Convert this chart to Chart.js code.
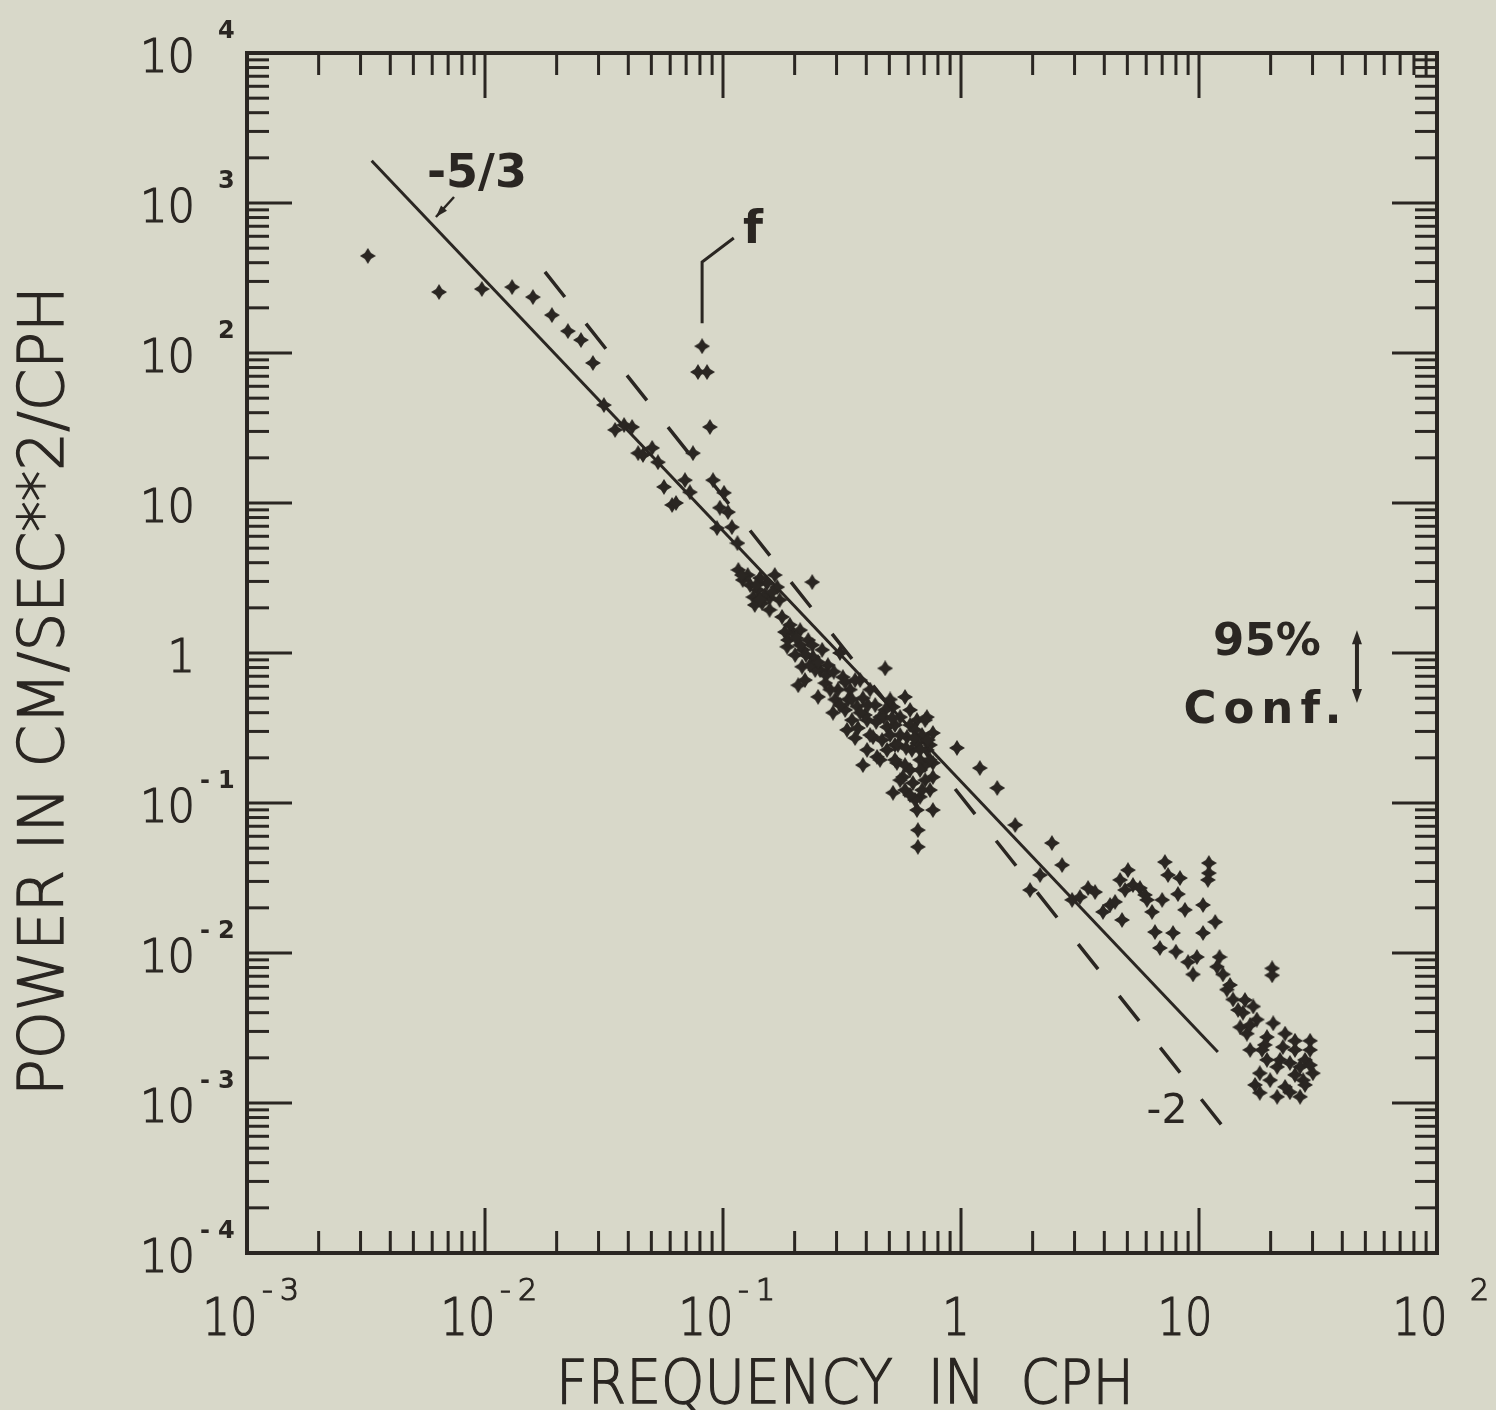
<!DOCTYPE html>
<html>
<head>
<meta charset="utf-8">
<script src="https://cdn.jsdelivr.net/npm/chart.js@4.4.1/dist/chart.umd.min.js"></script>
<style>
  html, body { margin: 0; padding: 0; background: #d8d8c9; }
  canvas { display: block; }
</style>
</head>
<body>
<canvas id="spectrum" width="1496" height="1410"></canvas>
<script>
// 観測スペクトル（周波数 cph / パワー (cm/s)^2/cph）
const freq = [
  0.00322, 0.00641, 0.0097, 0.0130, 0.0159, 0.0191, 0.0223, 0.0253, 0.0284, 0.0316,
  0.0352, 0.0384, 0.0415, 0.044, 0.0461, 0.0504, 0.0533, 0.0565, 0.0611, 0.0635,
  0.0692, 0.0726, 0.0817, 0.0785, 0.0857, 0.0881, 0.0748, 0.0908, 0.101, 0.097,
  0.105, 0.0944, 0.109, 0.115, 0.116, 0.121, 0.134, 0.146, 0.165, 0.169,
  0.153, 0.237, 0.177, 0.197, 0.211, 0.186, 0.217, 0.239, 0.207, 0.215,
  0.256, 0.310, 0.269, 0.251, 0.296, 0.290, 0.319, 0.342, 0.366, 0.377,
  0.415, 0.387, 0.480, 0.332, 0.359, 0.403, 0.427, 0.403, 0.387, 0.444,
  0.457, 0.489, 0.518, 0.555, 0.582, 0.611, 0.653, 0.719, 0.762, 0.489,
  0.538, 0.593, 0.653, 0.719, 0.762, 0.518, 0.570, 0.628, 0.673, 0.762,
  0.741, 0.762, 0.653, 0.659, 0.659, 0.962, 1.20, 1.42, 0.130, 0.140,
  0.157, 0.191, 0.228, 0.244, 0.276, 0.304, 0.326, 0.348, 0.369, 0.436,
  0.466, 0.504, 0.528, 0.611, 0.686, 0.622, 0.707, 0.582, 0.641, 0.707,
  1.69, 2.41, 2.66, 1.95, 2.15, 2.93, 3.16, 3.42, 3.66, 3.95,
  4.23, 4.44, 4.75, 5.03, 4.89, 5.28, 5.65, 5.93, 6.05, 6.35,
  7.19, 7.41, 8.32, 7.0, 8.16, 8.73, 6.53, 7.78, 6.85, 8.0,
  10.4, 11.0, 11.0, 10.9, 11.7, 10.4, 9.0, 9.8, 9.44, 12.2,
  12.6, 11.9, 20.3, 20.3, 13.1, 13.9, 15.3, 16.9, 14.9, 15.9,
  17.5, 19.3, 20.5, 23.0, 29.3, 29.3, 22.5, 19.3, 18.0, 21.3,
  24.1, 26.6, 30.1, 18.0, 21.3, 26.6, 27.4, 16.4, 24.1, 17.2,
  25.3, 27.9, 14.6, 13.5, 4.66, 0.127, 0.143, 0.157, 0.232, 0.261,
  0.201, 0.335, 0.395, 0.480, 0.528, 0.582, 0.673, 0.741, 0.611, 0.136,
  0.150, 0.173, 0.182, 0.211, 0.237, 0.221, 0.282, 0.310, 0.359, 0.415,
  0.457, 0.504, 0.555, 0.641, 0.707, 0.555, 0.673, 0.741, 0.528, 16.4,
  18.9, 25.3, 23.0, 29.3, 15.6, 0.1875, 0.203, 0.223, 0.251, 0.271,
  0.292, 0.326, 0.348, 0.377, 0.406, 0.44, 0.474, 0.513, 0.543, 0.588,
  0.635, 0.673, 0.726, 0.611, 0.686, 0.143, 0.161, 0.120, 0.138, 18.4,
  21.9, 25.3, 19.9, 27.9
];
const power = [
  444, 255, 267, 275, 236, 179, 140, 122, 85.8, 45,
  30.7, 33.1, 32.1, 21.5, 20.9, 23.3, 18.7, 12.8, 9.7, 10,
  14.2, 11.8, 111, 74.7, 74.7, 32.1, 21.5, 14.2, 11.7, 9.3,
  8.7, 6.8, 6.9, 5.4, 3.58, 3.07, 2.36, 2.15, 3.31, 2.75,
  2.93, 2.97, 1.74, 1.36, 1.42, 1.10, 1.05, 0.94, 0.61, 0.81,
  0.77, 1.0, 0.63, 0.51, 0.49, 0.40, 0.69, 0.57, 0.44, 0.66,
  0.57, 0.50, 0.79, 0.307, 0.271, 0.357, 0.275, 0.226, 0.179, 0.203,
  0.374, 0.321, 0.437, 0.374, 0.509, 0.417, 0.357, 0.374, 0.293, 0.226,
  0.185, 0.275, 0.251, 0.226, 0.185, 0.117, 0.149, 0.136, 0.110, 0.149,
  0.122, 0.0898, 0.0898, 0.066, 0.051, 0.233, 0.171, 0.126, 2.84, 2.63,
  2.33, 1.54, 1.22, 0.77, 0.83, 0.57, 0.417, 0.357, 0.316, 0.45,
  0.263, 0.284, 0.331, 0.331, 0.284, 0.226, 0.179, 0.122, 0.105, 0.142,
  0.0714, 0.0541, 0.0386, 0.0263, 0.0331, 0.0226, 0.0236, 0.0271, 0.0255, 0.0188,
  0.0209, 0.0219, 0.0166, 0.0357, 0.0263, 0.0284, 0.0271, 0.0244, 0.0226, 0.0188,
  0.0404, 0.0331, 0.0316, 0.0226, 0.0247, 0.0194, 0.0138, 0.0136, 0.0108, 0.0102,
  0.0209, 0.0398, 0.0341, 0.0307, 0.0161, 0.0136, 0.0087, 0.0094, 0.0072, 0.0094,
  0.0072, 0.0081, 0.0079, 0.0071, 0.0057, 0.0049, 0.0040, 0.0044, 0.0032, 0.0029,
  0.0036, 0.00275, 0.0034, 0.0029, 0.0026, 0.00226, 0.00236, 0.00194, 0.00158, 0.00174,
  0.00185, 0.00174, 0.00158, 0.00117, 0.0011, 0.0011, 0.00142, 0.00226, 0.00118, 0.00132,
  0.00226, 0.00194, 0.00417, 0.00612, 0.0307, 3.31, 3.16, 1.94, 0.83, 1.05,
  0.97, 0.49, 0.386, 0.417, 0.244, 0.179, 0.194, 0.244, 0.166, 2.09,
  2.44, 2.26, 1.38, 1.13, 1.13, 0.66, 0.57, 0.45, 0.66, 0.284,
  0.194, 0.49, 0.284, 0.307, 0.357, 0.142, 0.166, 0.194, 0.194, 0.00331,
  0.00244, 0.00154, 0.00128, 0.00179, 0.00486, 1.22, 1.26, 0.97, 0.87, 0.71,
  0.75, 0.64, 0.49, 0.40, 0.45, 0.347, 0.374, 0.369, 0.244, 0.233,
  0.271, 0.226, 0.263, 0.113, 0.122, 2.26, 2.55, 3.31, 2.84, 0.00226,
  0.00194, 0.0026, 0.00142, 0.00132
];

// 参照線 (-5/3 乗と -2 乗)
const slopeFreq = [0.00334, 12.0];
const slopePower = [1914, 0.00219];
const dashFreq = [0.01786, 12.85];
const dashPower = [347, 0.00067];

// 目盛り（10 のべき乗と 2〜9 の副目盛り）
const xDecades = [-3, -2, -1, 0, 1, 2];
const yDecades = [-4, -3, -2, -1, 0, 1, 2, 3, 4];
const minorSteps = [2, 3, 4, 5, 6, 7, 8, 9];

// 目盛りラベル
const xLabelBase = ['10', '10', '10', '1', '10', '10'];
const xLabelExp = ['-3', '-2', '-1', '', '', '2'];
const yLabelBase = ['10', '10', '10', '10', '1', '10', '10', '10', '10'];
const yLabelExp = ['-4', '-3', '-2', '-1', '', '', '2', '3', '4'];

const paper = '#d8d8c9';
const ink = '#2a2622';
const plain = '"DejaVu Sans", "Liberation Sans", sans-serif';
const thin = '200 ';

function logTicks(decades) {
  const ticks = [];
  decades.forEach((d, i) => {
    ticks.push({ value: Math.pow(10, d), major: true });
    if (i < decades.length - 1) {
      minorSteps.forEach(m => ticks.push({ value: m * Math.pow(10, d), major: false }));
    }
  });
  return ticks;
}

// 点の記号（四つ角の星）
function starMark(size) {
  const c = document.createElement('canvas');
  c.width = c.height = size;
  const g = c.getContext('2d');
  const m = size / 2;
  g.fillStyle = ink;
  g.beginPath();
  for (let i = 0; i < 8; i++) {
    const a = i * Math.PI / 4 - Math.PI / 2;
    const r = i % 2 ? size * 0.27 : size / 2;
    g.lineTo(m + r * Math.cos(a), m + r * Math.sin(a));
  }
  g.closePath();
  g.fill();
  return c;
}

// 細字はペンの太さに合わせて少し縁取る
function text(ctx, s, x, y, font, align, sx = 1) {
  ctx.save();
  ctx.font = font;
  ctx.textAlign = align;
  ctx.textBaseline = 'alphabetic';
  ctx.translate(x, y);
  ctx.scale(sx, 1);
  ctx.fillText(s, 0, 0);
  if (font.startsWith(thin)) {
    ctx.lineWidth = 1.2;
    ctx.strokeText(s, 0, 0);
  }
  ctx.restore();
}

function fitText(ctx, s, x, y, width, font, angle) {
  ctx.save();
  ctx.font = font;
  ctx.textAlign = 'center';
  ctx.textBaseline = 'alphabetic';
  ctx.translate(x, y);
  ctx.rotate(angle);
  ctx.scale(width / ctx.measureText(s).width, 1);
  ctx.fillText(s, 0, 0);
  ctx.lineWidth = 1.3;
  ctx.strokeText(s, 0, 0);
  ctx.restore();
}

function line(ctx, pts) {
  ctx.beginPath();
  pts.forEach(([x, y], i) => (i ? ctx.lineTo(x, y) : ctx.moveTo(x, y)));
  ctx.stroke();
}

function arrowHead(ctx, x0, y0, x1, y1, len, half) {
  const a = Math.atan2(y1 - y0, x1 - x0);
  ctx.beginPath();
  ctx.moveTo(x1, y1);
  ctx.lineTo(x1 - len * Math.cos(a) + half * Math.sin(a), y1 - len * Math.sin(a) - half * Math.cos(a));
  ctx.lineTo(x1 - len * Math.cos(a) - half * Math.sin(a), y1 - len * Math.sin(a) + half * Math.cos(a));
  ctx.closePath();
  ctx.fill();
}

function drawExp(ctx, exp, signX, digitX, base, font) {
  if (!exp) return;
  if (exp[0] === '-') {
    text(ctx, '-', signX, base, font, 'left');
    text(ctx, exp.slice(1), digitX, base, font, 'left');
  } else {
    text(ctx, exp, digitX, base, font, 'left');
  }
}

const plotter = {
  id: 'plotter',
  beforeDraw(chart) {
    const ctx = chart.ctx;
    ctx.save();
    ctx.fillStyle = paper;
    ctx.fillRect(0, 0, chart.width, chart.height);
    ctx.restore();
  },
  afterDraw(chart) {
    const ctx = chart.ctx;
    const a = chart.chartArea;
    const sx = chart.scales.x;
    const sy = chart.scales.y;
    const px = v => sx.getPixelForValue(v);
    const py = v => sy.getPixelForValue(v);

    ctx.save();
    ctx.strokeStyle = ink;
    ctx.fillStyle = ink;
    ctx.lineCap = 'butt';

    // 枠
    ctx.lineWidth = 4;
    ctx.strokeRect(a.left, a.top, a.right - a.left, a.bottom - a.top);

    // 内向きの目盛り（四辺）
    ctx.lineWidth = 3;
    sx.ticks.forEach(t => {
      const p = px(t.value);
      const len = t.major ? 45 : 22;
      line(ctx, [[p, a.bottom], [p, a.bottom - len]]);
      line(ctx, [[p, a.top], [p, a.top + len]]);
    });
    sy.ticks.forEach(t => {
      const p = py(t.value);
      const len = t.major ? 45 : 22;
      line(ctx, [[a.left, p], [a.left + len, p]]);
      line(ctx, [[a.right, p], [a.right - len, p]]);
    });

    // 横軸ラベル
    xDecades.forEach((d, i) => {
      const p = px(Math.pow(10, d));
      const exp = xLabelExp[i];
      const base = xLabelBase[i];
      const cx = p + (exp ? -17 : base === '1' ? -5 : -14);
      text(ctx, base, cx, a.bottom + 82, thin + '52px ' + plain, 'center', 0.83);
      drawExp(ctx, exp, p + 15, p + 33, a.bottom + 47, thin + '30px ' + plain);
    });

    // 縦軸ラベル
    yDecades.forEach((d, i) => {
      const p = py(Math.pow(10, d));
      text(ctx, yLabelBase[i], 195, p + 19, thin + '46px ' + plain, 'right', 0.94);
      drawExp(ctx, yLabelExp[i], 200, 218, p - 15, 'bold 24px ' + plain);
    });

    // 軸タイトル
    fitText(ctx, 'FREQUENCY  IN  CPH', 845, 1403, 578, thin + '60px ' + plain, 0);
    fitText(ctx, 'POWER IN CM/SEC**2/CPH', 63, 691, 810, thin + '62px ' + plain, -Math.PI / 2);

    // -5/3 の注記と矢印
    text(ctx, '-5/3', px(0.00925), py(1660) + 17, 'bold 46px ' + plain, 'center');
    ctx.lineWidth = 2.5;
    const a0 = [px(0.00741), py(1096)];
    const a1 = [px(0.00622), py(807)];
    line(ctx, [a0, a1]);
    arrowHead(ctx, a0[0], a0[1], a1[0], a1[1], 12, 4);

    // 慣性周期 f の引き出し線
    ctx.lineWidth = 3;
    line(ctx, [[px(0.0817), py(158)], [px(0.0817), py(404)], [px(0.111), py(584)]]);
    text(ctx, 'f', px(0.1337), py(703) + 17, 'bold 46px ' + plain, 'center');

    // -2 の注記
    text(ctx, '-2', px(7.34), py(0.000926) + 15, '41px ' + plain, 'center');

    // 95% 信頼区間
    text(ctx, '95%', px(19.3), py(1.26) + 17, 'bold 45px ' + plain, 'center');
    ctx.save();
    ctx.letterSpacing = '7px';
    text(ctx, 'Conf.', px(18.4) + 4, py(0.443) + 17, 'bold 45px ' + plain, 'center');
    ctx.restore();
    ctx.lineWidth = 4;
    const c0 = [px(46.1), py(1.42)];
    const c1 = [px(46.1), py(0.464)];
    line(ctx, [[c0[0], c0[1] + 8], [c1[0], c1[1] - 8]]);
    arrowHead(ctx, c1[0], c1[1], c0[0], c0[1], 14, 5);
    arrowHead(ctx, c0[0], c0[1], c1[0], c1[1], 14, 5);

    ctx.restore();
  }
};

document.addEventListener('DOMContentLoaded', () => {
  const ctx = document.getElementById('spectrum');
  const hidden = {
    grid: { display: false, drawTicks: false, tickLength: 0 },
    border: { display: false },
    ticks: { display: false },
  };

  new Chart(ctx, {
    type: 'scatter',
    data: {
      datasets: [{
        data: freq.map((f, i) => ({ x: f, y: power[i] })),
        pointStyle: starMark(16),
        pointRadius: 8,
        pointHoverRadius: 8,
      }, {
        type: 'line',
        data: slopeFreq.map((f, i) => ({ x: f, y: slopePower[i] })),
        borderColor: ink,
        borderWidth: 3,
        pointRadius: 0,
        fill: false,
      }, {
        type: 'line',
        data: dashFreq.map((f, i) => ({ x: f, y: dashPower[i] })),
        borderColor: ink,
        borderWidth: 3.5,
        borderDash: [32, 34],
        pointRadius: 0,
        fill: false,
      }],
    },
    options: {
      responsive: false,
      animation: false,
      layout: { padding: { left: 247, top: 53, right: 59, bottom: 157 } },
      plugins: { legend: { display: false }, tooltip: { enabled: false } },
      scales: {
        x: {
          type: 'logarithmic', min: 1e-3, max: 1e2, ...hidden,
          afterBuildTicks: scale => { scale.ticks = logTicks(xDecades); },
        },
        y: {
          type: 'logarithmic', min: 1e-4, max: 1e4, ...hidden,
          afterBuildTicks: scale => { scale.ticks = logTicks(yDecades); },
        },
      },
    },
    plugins: [plotter],
  });
});
</script>
</body>
</html>
